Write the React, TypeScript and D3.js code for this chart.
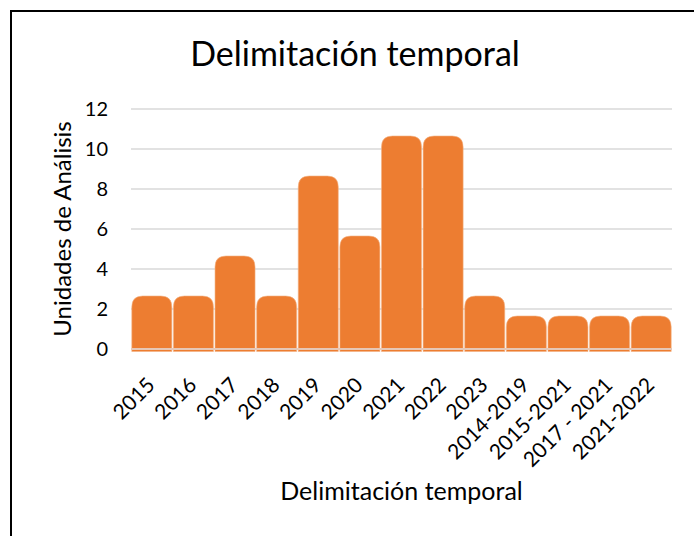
import React, { useEffect, useRef } from 'react';
import * as d3 from 'd3';

const categories = [
  '2015', '2016', '2017', '2018', '2019', '2020', '2021', '2022', '2023',
  '2014-2019', '2015-2021', '2017 - 2021', '2021-2022',
];
const unidades = [2, 2, 4, 2, 8, 5, 10, 10, 2, 1, 1, 1, 1];
const yTicks = [0, 2, 4, 6, 8, 10, 12];

const chartTitle = 'Delimitación temporal';
const xTitle = 'Delimitación temporal';
const yTitle = 'Unidades de Análisis';

const WIDTH = 694;
const HEIGHT = 536;
const FONT = 'Lato, "Open Sans", sans-serif';

const App = () => {
  const svgRef = useRef<SVGSVGElement>(null);

  useEffect(() => {
    const margin = { top: 109, right: 22, bottom: 187, left: 131 };
    const innerW = WIDTH - margin.left - margin.right;
    const innerH = HEIGHT - margin.top - margin.bottom;

    const svg = d3.select(svgRef.current);
    svg.selectAll('*').remove();

    // frame around the whole chart (clipped right / bottom like the source)
    svg
      .append('rect')
      .attr('x', 11)
      .attr('y', 11)
      .attr('width', WIDTH)
      .attr('height', HEIGHT)
      .attr('fill', 'white')
      .attr('stroke', '#000')
      .attr('stroke-width', 2);

    const g = svg.append('g').attr('transform', `translate(${margin.left},${margin.top})`);

    const x = d3.scaleBand().domain(categories).range([0, innerW]).padding(0);
    const y = d3.scaleLinear().domain([0, 12]).range([innerH, 0]);

    // gridlines
    g.selectAll('.grid')
      .data(yTicks.filter((t) => t > 0))
      .enter()
      .append('line')
      .attr('x1', 0)
      .attr('x2', innerW)
      .attr('y1', (d) => y(d))
      .attr('y2', (d) => y(d))
      .attr('stroke', '#d9d9d9')
      .attr('stroke-width', 1.6);

    // bars with rounded caps (the cap sits above the value like the source)
    const cap = 13;
    const r = 11;
    const barPath = (d: number, i: number) => {
      const x0 = x(categories[i])! + 0.8;
      const x1 = x0 + x.bandwidth() - 1.6;
      const top = y(d) - cap;
      const bottom = y(0) + 2.5;
      return `M${x0},${bottom}V${top + r}Q${x0},${top} ${x0 + r},${top}H${x1 - r}Q${x1},${top} ${x1},${top + r}V${bottom}Z`;
    };

    g.selectAll('.bar')
      .data(unidades)
      .enter()
      .append('path')
      .attr('class', 'bar')
      .attr('d', (d, i) => barPath(d, i))
      .attr('fill', '#ed7d31')
      .attr('stroke', '#f4b183')
      .attr('stroke-width', 0.6);

    // zero line
    g.append('line')
      .attr('x1', 0)
      .attr('x2', innerW)
      .attr('y1', y(0))
      .attr('y2', y(0))
      .attr('stroke', '#e6c7b5')
      .attr('stroke-width', 1.8);

    // y tick labels
    g.selectAll('.ytick')
      .data(yTicks)
      .enter()
      .append('text')
      .attr('x', -23)
      .attr('y', (d) => y(d))
      .attr('dy', '0.36em')
      .attr('text-anchor', 'end')
      .attr('font-family', FONT)
      .attr('font-size', 20)
      .attr('fill', '#000')
      .text((d) => d);

    // x tick labels
    g.selectAll('.xtick')
      .data(categories)
      .enter()
      .append('text')
      .attr(
        'transform',
        (d) => `translate(${x(d)! + x.bandwidth() / 2 - 1},${innerH + 32}) rotate(-45)`
      )
      .attr('text-anchor', 'end')
      .attr('dy', '0.36em')
      .attr('font-family', FONT)
      .attr('font-size', 21)
      .attr('fill', '#000')
      .text((d) => d);

    // titles
    svg
      .append('text')
      .attr('x', 355)
      .attr('y', 66)
      .attr('text-anchor', 'middle')
      .attr('font-family', FONT)
      .attr('font-size', 34)
      .attr('fill', '#000')
      .text(chartTitle);

    svg
      .append('text')
      .attr('x', margin.left + innerW / 2)
      .attr('y', 500)
      .attr('text-anchor', 'middle')
      .attr('font-family', FONT)
      .attr('font-size', 25)
      .attr('fill', '#000')
      .text(xTitle);

    svg
      .append('text')
      .attr('transform', `translate(71,${margin.top + innerH / 2}) rotate(-90)`)
      .attr('text-anchor', 'middle')
      .attr('font-family', FONT)
      .attr('font-size', 24)
      .attr('fill', '#000')
      .text(yTitle);
  }, []);

  return (
    <svg
      ref={svgRef}
      width={WIDTH}
      height={HEIGHT}
      style={{ position: 'absolute', left: 0, top: 0, background: 'white' }}
    />
  );
};

export default App;
